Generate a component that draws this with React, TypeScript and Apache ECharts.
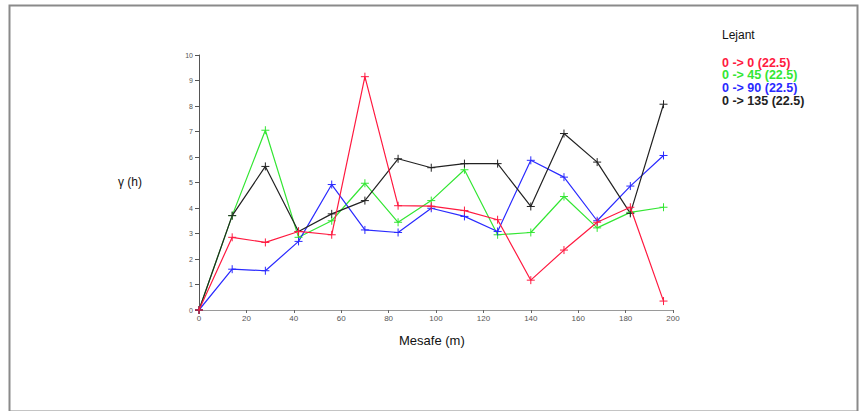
import React, { useEffect, useRef } from "react";
import * as echarts from "echarts";

const lags = [0, 14, 28, 42, 56, 70, 84, 98, 112, 126, 140, 154, 168, 182, 196];
const seriesNames = ["0 -> 0 (22.5)", "0 -> 45 (22.5)", "0 -> 90 (22.5)", "0 -> 135 (22.5)"];
const seriesColors = ["#ff1a40", "#33e633", "#2a2aff", "#222222"];
const dir0 = [0, 2.85, 2.65, 3.08, 2.95, 9.15, 4.09, 4.07, 3.9, 3.54, 1.17, 2.35, 3.44, 4.03, 0.35];
const dir45 = [0, 3.7, 7.05, 2.85, 3.5, 4.97, 3.44, 4.29, 5.5, 2.95, 3.04, 4.45, 3.22, 3.83, 4.03];
const dir90 = [0, 1.6, 1.54, 2.69, 4.92, 3.14, 3.04, 3.99, 3.67, 3.08, 5.87, 5.21, 3.5, 4.86, 6.06];
const dir135 = [0, 3.7, 5.63, 3.08, 3.77, 4.29, 5.93, 5.58, 5.74, 5.74, 4.06, 6.92, 5.8, 3.79, 8.07];
const allSeries = [dir0, dir45, dir90, dir135];

const xTitle = "Mesafe (m)";
const yTitle = "γ (h)";
const legendTitle = "Lejant";

export default function App() {
  const ref = useRef<HTMLDivElement>(null);
  useEffect(() => {
    if (!ref.current) return;
    const chart = echarts.init(ref.current, null, { renderer: "svg" });
    const plus = "path://M0,-5L0,5M-5,0L5,0";
    chart.setOption({
      animation: false,
      backgroundColor: "#ffffff",
      grid: { left: 199, right: 187, top: 55, bottom: 101, containLabel: false },
      xAxis: {
        type: "value",
        min: 0,
        max: 200,
        interval: 20,
        axisLine: { show: true, lineStyle: { color: "#9a9a9a", width: 1 } },
        axisTick: { show: true, length: 3, inside: false, lineStyle: { color: "#666" } },
        axisLabel: { fontSize: 8, color: "#555", margin: 4, fontFamily: "Liberation Sans" },
        splitLine: { show: false },
      },
      yAxis: {
        type: "value",
        min: 0,
        max: 10,
        interval: 1,
        axisLine: { show: true, lineStyle: { color: "#555", width: 1 } },
        axisTick: { show: true, length: 4, lineStyle: { color: "#555" } },
        axisLabel: { fontSize: 7, color: "#555", margin: 6, fontFamily: "Liberation Sans" },
        splitLine: { show: false },
      },
      series: allSeries.map((vals, i) => ({
        name: seriesNames[i],
        type: "line",
        data: vals.map((v, j) => [lags[j], v]),
        symbol: plus,
        symbolSize: 8,
        showSymbol: true,
        lineStyle: { color: seriesColors[i], width: 1.2 },
        itemStyle: { color: seriesColors[i], borderColor: seriesColors[i], borderWidth: 1 },
        z: i === 0 ? 5 : 2,
      })),
      graphic: [
        {
          type: "rect",
          left: 7,
          top: 3,
          shape: { width: 848, height: 406 },
          style: { fill: "none", stroke: "#8a8a8a", lineWidth: 2 },
          silent: true,
        },
        {
          type: "text",
          left: 118,
          top: 176,
          style: { text: yTitle, fontSize: 12, fill: "#111", fontFamily: "Liberation Sans" },
        },
        {
          type: "text",
          left: 399,
          top: 334,
          style: { text: xTitle, fontSize: 13, fill: "#111", fontFamily: "Liberation Sans" },
        },
        {
          type: "text",
          left: 722,
          top: 29,
          style: { text: legendTitle, fontSize: 12, fill: "#111", fontFamily: "Liberation Sans" },
        },
        ...seriesNames.map((n, i) => ({
          type: "text",
          left: 722,
          top: 56 + i * 12.7,
          style: {
            text: n,
            fontSize: 12.5,
            lineHeight: 12,
            fontWeight: "bold",
            fill: seriesColors[i],
            fontFamily: "Liberation Sans",
          },
        })),
      ],
    });
    return () => chart.dispose();
  }, []);
  return <div ref={ref} style={{ width: 860, height: 411, position: "absolute", left: 0, top: 0 }} />;
}
